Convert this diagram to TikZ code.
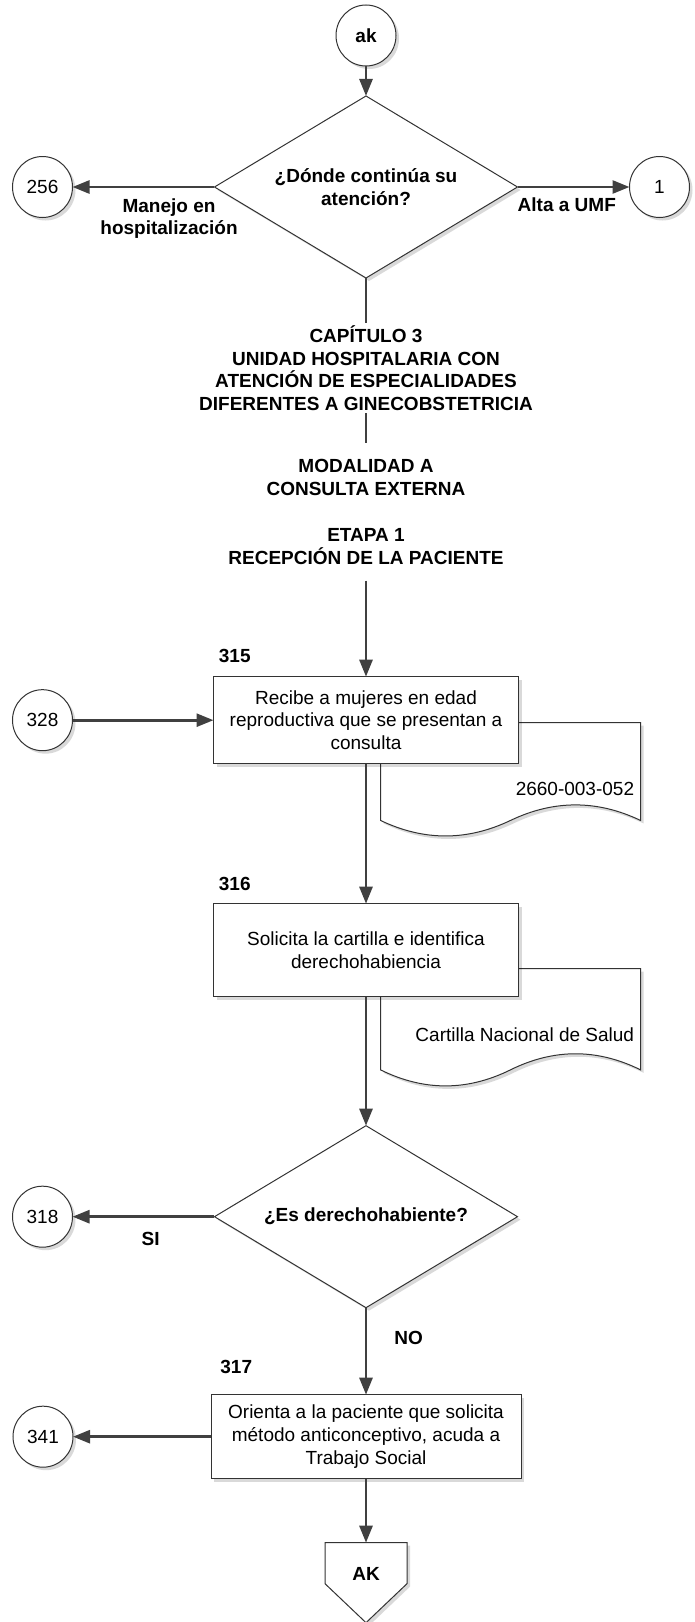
\documentclass[tikz,border=0pt]{standalone}
\usepackage{fontspec}
\setmainfont{Liberation Sans}
\usepackage{tikz}
\usetikzlibrary{positioning,shapes.geometric,arrows.meta,shadows,backgrounds,calc}

\definecolor{trazo}{RGB}{64,64,64}
\newcommand{\letra}{\fontsize{9.5pt}{11.4pt}\selectfont}
\newcommand{\formato}[5]{%
	\begin{scope}[shift={#1}]
		\path[hoja] (0,0) -- (#2,0) -- (#2,{-0.85*#3})
			.. controls ({5*#2/6},{-0.67*#3}) and ({2*#2/3},{-0.67*#3}) .. ({#2/2},{-0.85*#3})
			.. controls ({#2/3},{-1.03*#3}) and ({#2/6},{-1.03*#3}) .. (0,{-0.85*#3}) -- cycle;
		\node[anchor=east,inner sep=0pt] (#4) at ({#2-3},-33) {#5};
	\end{scope}}

\tikzset{
	sombra/.style={drop shadow={shadow xshift=1.5pt,shadow yshift=-1.5pt,opacity=0.15,fill=black}},
	forma/.style={draw=black!80,line width=0.5pt,fill=white,sombra},
	hoja/.style={forma},
	proceso/.style={forma,rectangle,align=center,minimum width=152.5pt,inner sep=0pt,outer sep=0pt},
	decision/.style={forma,diamond,aspect=1.66,minimum width=151.5pt,minimum height=91pt,inner sep=0pt,outer sep=0pt,align=center,font=\letra\bfseries},
	circulo/.style={forma,ellipse,minimum width=30pt,minimum height=30.5pt,inner sep=0pt,outer sep=0pt},
	conector/.style={rectangle,minimum width=41pt,minimum height=40pt,inner sep=0pt,outer sep=0pt,text depth=9pt,font=\letra\bfseries},
	flecha/.style={draw=trazo,line width=1.35pt,-{Triangle[length=8.5pt,width=6.5pt]}},
	linea/.style={draw=trazo,line width=1.35pt},
	etiqueta/.style={font=\letra\bfseries,align=center,inner sep=0pt},
	titulo/.style={font=\letra\bfseries,align=center,inner xsep=0pt},
	paso/.style={font=\letra\bfseries,inner sep=0pt}
}

\begin{document}
\begin{tikzpicture}[x=1pt,y=1pt,font=\letra]
\useasboundingbox (0,0) rectangle (347.5,-811);

\node[circulo,font=\letra\bfseries] (ak) at (183,-17.75) {ak};
\node[decision,below=15pt of ak] (d1) {¿Dónde continúa su\\atención?};
\node[circulo,left=71pt of d1] (c256) {256};
\node[circulo,right=56pt of d1] (c1) {1};
\node[titulo,below=22.5pt of d1,inner ysep=1pt] (cap) {CAPÍTULO 3\\UNIDAD HOSPITALARIA CON\\ATENCIÓN DE ESPECIALIDADES\\DIFERENTES A GINECOBSTETRICIA};
\node[titulo,below=15pt of cap,inner ysep=8pt] (etapa) {MODALIDAD A\\CONSULTA EXTERNA\\[11.4pt]ETAPA 1\\RECEPCIÓN DE LA PACIENTE};

\node[proceso,below=48pt of etapa,minimum height=43.5pt] (b315) {Recibe a mujeres en edad\\reproductiva que se presentan a\\consulta};
\node[paso,above right=7pt and 2.5pt of b315.north west] (n315) {315};
\node[circulo,left=70.5pt of b315] (c328) {328};

\node[proceso,below=70pt of b315,minimum height=46.5pt] (b316) {Solicita la cartilla e identifica\\derechohabiencia};
\node[paso,above right=6.5pt and 2.5pt of b316.north west] (n316) {316};

\node[decision,below=64.5pt of b316] (d2) {¿Es derechohabiente?};
\node[circulo,left=71pt of d2] (c318) {318};

\node[proceso,below=43.5pt of d2,minimum width=155pt,minimum height=42pt] (b317) {Orienta a la paciente que solicita\\método anticonceptivo, acuda a\\Trabajo Social};
\node[paso,above right=10.5pt and 4.5pt of b317.north west] (n317) {317};
\node[circulo,left=69pt of b317] (c341) {341};
\node[conector,below=32pt of b317] (AK) {AK};

\begin{scope}[on background layer]
	\formato{($(b315.east)+(-69,-1.25)$)}{130}{57.5}{f315}{2660-003-052}
	\formato{($(b316.east)+(-69,-9.25)$)}{130}{59.5}{f316}{Cartilla Nacional de Salud}
	\path[forma] (AK.north west) -- (AK.north east) -- ([yshift=-20.5pt]AK.north east) -- (AK.south) -- ([yshift=-20.5pt]AK.north west) -- cycle;
\end{scope}

\draw[flecha] (ak) -- (d1);
\draw[flecha] (d1) -- node[etiqueta,below=5pt,pos=0.32] (lhosp) {Manejo en\\hospitalización} (c256);
\draw[flecha] (d1) -- node[etiqueta,below=4.5pt,pos=0.44] (lumf) {Alta a UMF} (c1);
\draw[linea] (d1) -- (cap);
\draw[linea] (cap) -- (etapa);
\draw[flecha] (etapa) -- (b315);
\draw[flecha] (c328) -- (b315);
\draw[flecha] (b315) -- (b316);
\draw[flecha] (b316) -- (d2);
\draw[flecha] (d2) -- node[etiqueta,below=7pt,pos=0.45] (lsi) {SI} (c318);
\draw[flecha] (d2) -- node[etiqueta,right=13.5pt,pos=0.345] (lno) {NO} (b317);
\draw[flecha] (b317) -- (c341);
\draw[flecha] (b317) -- (AK);
\end{tikzpicture}
\end{document}
